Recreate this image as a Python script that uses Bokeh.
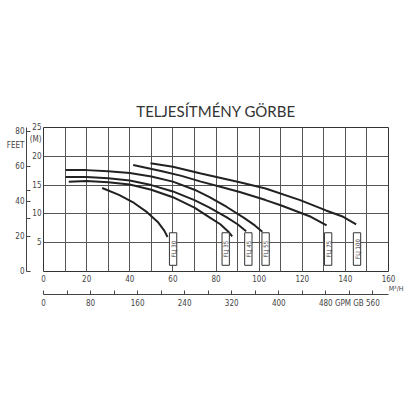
from math import pi
from bokeh.plotting import figure
from bokeh.models import Range1d, LinearAxis, FixedTicker, Title
from bokeh.core.properties import value
from bokeh.embed import file_html
from bokeh.resources import INLINE

# pump curves: flow (m3/h) and head (m)
flj30_q = [27.2, 35, 42, 48, 53, 56, 57.5]
flj30_h = [14.5, 13.3, 11.9, 10.3, 8.6, 7.1, 6.0]

flj35_q = [11.7, 20, 30, 40, 50, 60, 70, 77, 82, 86, 87.5]
flj35_h = [15.6, 15.7, 15.5, 15.1, 14.2, 12.9, 11.1, 9.4, 8.2, 6.8, 6.1]

flj45_q = [10.2, 20, 30, 40, 50, 60, 70, 77, 85, 90, 94]
flj45_h = [16.4, 16.4, 16.2, 15.8, 15.0, 13.9, 12.4, 11.1, 9.4, 8.2, 7.0]

flj55_q = [10.2, 20, 30, 40, 50, 60, 70, 77, 85, 93, 98, 101.5]
flj55_h = [17.6, 17.6, 17.4, 17.1, 16.5, 15.6, 14.2, 12.9, 11.2, 9.3, 8.0, 6.9]

flj75_q = [41.6, 55, 64, 73, 82, 91, 103, 110, 124, 131.3]
flj75_h = [18.5, 17.4, 16.6, 15.6, 14.7, 13.8, 12.4, 11.5, 9.5, 8.0]

flj100_q = [49.6, 60, 73, 91, 103, 119, 131, 139, 145]
flj100_h = [18.8, 18.2, 17.0, 15.5, 14.4, 12.4, 10.6, 9.5, 8.2]

pump_names = ["FLJ 30", "FLJ 35", "FLJ 45", "FLJ 55", "FLJ 75", "FLJ 100"]
name_q = [60.1, 84.5, 95.0, 103.0, 132.0, 145.4]
name_h = [3.9, 3.9, 3.9, 3.9, 3.9, 3.9]

metre_ticks = [5, 10, 15, 20, 23, 25]
metre_labels = {5: "5", 10: "10", 15: "15", 20: "20", 23: "(M)", 25: "25"}
feet_ticks = [0, 20, 40, 60, 72, 80]
feet_labels = {0: "0", 20: "20", 40: "40", 60: "60", 72: "FEET", 80: "80"}
feet_marks = [0, 20, 30, 40, 46, 60, 80]
flow_ticks = [0, 20, 40, 60, 80, 100, 120, 140, 160]
gpm_ticks = [0, 40, 80, 120, 160, 200, 240, 280, 320, 360, 400, 440, 480, 520, 560]
gpm_labels = {0: "0", 40: "", 80: "80", 120: "", 160: "160", 200: "", 240: "240",
              280: "", 320: "320", 360: "", 400: "400", 440: "", 480: "480",
              520: "GPM GB", 560: "560"}

AX_FONT = "DejaVu Sans Condensed"
AX_COL = "#444444"
AX_SIZE = "8px"

p = figure(width=416, height=410, x_range=Range1d(0, 160), y_range=Range1d(0, 25),
           output_backend="svg", toolbar_location=None,
           min_border_left=43, min_border_right=28, min_border_top=127, min_border_bottom=139)
p.outline_line_color = "#333333"
p.background_fill_color = "white"
p.border_fill_color = "white"

p.title.text = "TELJESÍTMÉNY GÖRBE"
p.title.align = "center"
p.title.text_font = "Lato"
p.title.text_font_size = "15px"
p.title.text_font_style = "normal"
p.title.text_color = "#333333"
p.title.standoff = 16

p.xgrid.ticker = FixedTicker(ticks=list(range(0, 161, 10)))
p.ygrid.ticker = FixedTicker(ticks=[0, 5, 10, 15, 20, 25])
p.xgrid.grid_line_color = "#555555"
p.ygrid.grid_line_color = "#555555"

# metre axis (next to the frame)
yax = p.left[0]
yax.ticker = FixedTicker(ticks=metre_ticks)
yax.major_label_overrides = metre_labels
yax.axis_line_color = None
yax.major_tick_line_color = None
yax.minor_tick_line_color = None
yax.major_tick_out = 0
yax.major_tick_in = 0
yax.major_label_standoff = 2
yax.major_label_text_font = AX_FONT
yax.major_label_text_font_size = AX_SIZE
yax.major_label_text_color = AX_COL

# m3/h axis
xax = p.below[0]
xax.ticker = FixedTicker(ticks=flow_ticks)
xax.axis_line_color = None
xax.major_tick_line_color = None
xax.minor_tick_line_color = None
xax.major_tick_out = 0
xax.major_tick_in = 0
xax.major_label_standoff = 3
xax.major_label_text_font = AX_FONT
xax.major_label_text_font_size = AX_SIZE
xax.major_label_text_color = AX_COL

# feet axis
p.extra_y_ranges = {"feet": Range1d(0, 25 * 3.2808)}
fax = LinearAxis(y_range_name="feet",
                 ticker=FixedTicker(ticks=feet_ticks, minor_ticks=feet_marks),
                 major_label_overrides=feet_labels)
fax.axis_line_color = AX_COL
fax.major_tick_line_color = None
fax.major_tick_in = 0
fax.major_tick_out = 0
fax.minor_tick_line_color = AX_COL
fax.minor_tick_in = 4
fax.minor_tick_out = 0
fax.major_label_standoff = 2
fax.major_label_text_font = AX_FONT
fax.major_label_text_font_size = AX_SIZE
fax.major_label_text_color = AX_COL
p.add_layout(fax, "left")

# GPM GB axis, with the m3/h unit between the two bottom scales
p.extra_x_ranges = {"gpm": Range1d(0, 160 * 3.666)}
gax = LinearAxis(x_range_name="gpm", ticker=FixedTicker(ticks=gpm_ticks),
                 major_label_overrides=gpm_labels)
gax.axis_line_color = AX_COL
gax.major_tick_line_color = AX_COL
gax.major_tick_in = 4
gax.major_tick_out = 0
gax.minor_tick_line_color = None
gax.major_label_standoff = 4
gax.major_label_text_font = AX_FONT
gax.major_label_text_font_size = AX_SIZE
gax.major_label_text_color = AX_COL

unit = Title(text="M³/H", align="right", offset=-15, standoff=0, vertical_align="top",
             text_font=AX_FONT, text_font_size="7px", text_font_style="normal",
             text_color=AX_COL)
p.below = [xax, unit, gax]

curves = [(flj30_q, flj30_h), (flj35_q, flj35_h), (flj45_q, flj45_h),
          (flj55_q, flj55_h), (flj75_q, flj75_h), (flj100_q, flj100_h)]
for q, h in curves:
    p.line(q, h, line_color="#222222", line_width=2)

p.rect(x=name_q, y=name_h, width=3.4, height=5.65, fill_color="white",
       line_color="#333333", line_width=1)
p.text(x=name_q, y=name_h, text=pump_names, angle=pi / 2, text_align="center",
       text_baseline="middle", text_font=value(AX_FONT), text_font_size="6px",
       text_color="#333333")

open("out.html", "w").write(file_html(p, INLINE))
